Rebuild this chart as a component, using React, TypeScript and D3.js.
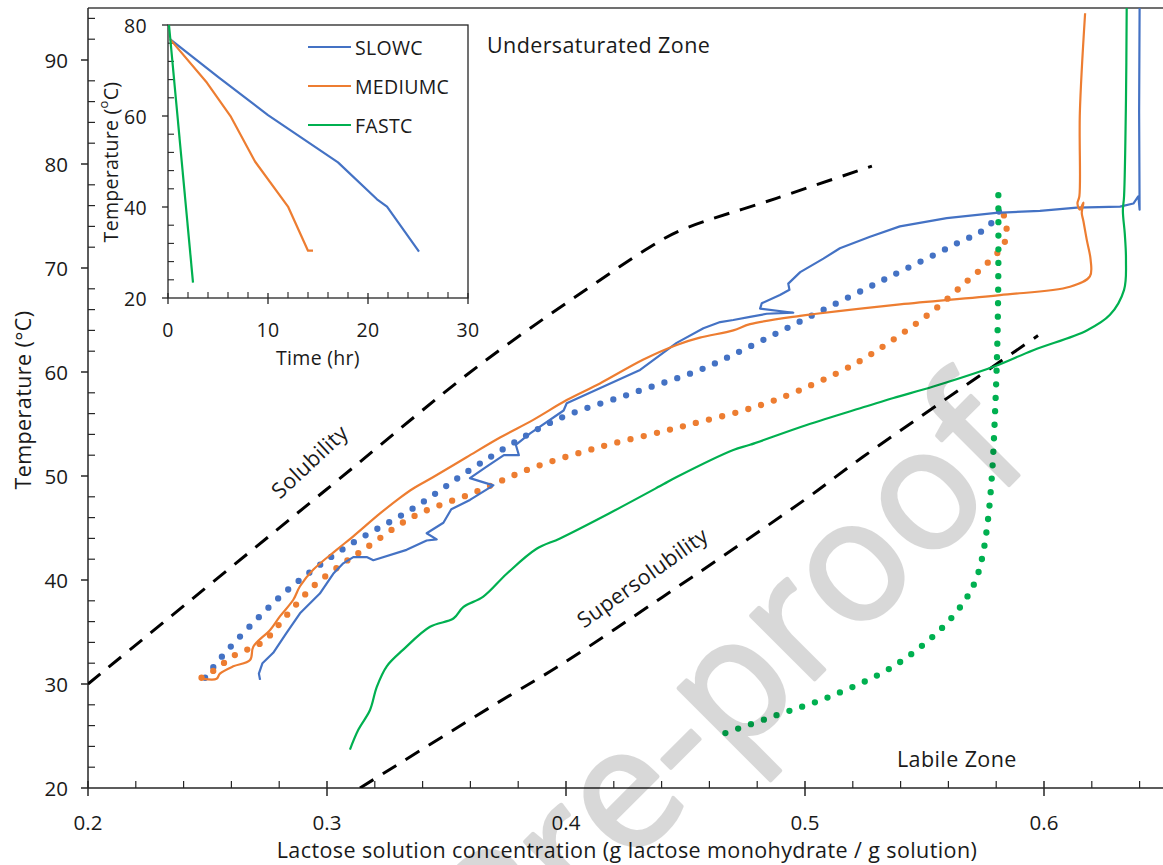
import * as d3 from "d3";

type Pt = [number, number];

// main chart: [lactose concentration, temperature °C]
const xMajor = [0.2, 0.3, 0.4, 0.5, 0.6];
const xMajorLabels = ["0.2", "0.3", "0.4", "0.5", "0.6"];
const yMajor = [20, 30, 40, 50, 60, 70, 80, 90];

const solubility: Pt[] = [
  [0.2, 30], [0.3, 48.75], [0.364, 60.7], [0.414, 68.8], [0.435, 72.0],
  [0.4477, 73.6], [0.488, 76.7], [0.528, 79.8],
];
const supersolubility: Pt[] = [
  [0.3138, 20], [0.37, 28.0], [0.3975, 31.8], [0.44, 38.3], [0.474, 43.6],
  [0.501, 47.9], [0.524, 51.8], [0.5975, 63.5],
];

const slowMeasured: Pt[] = [
  [0.64, 95], [0.6398, 85], [0.64, 75.6], [0.6395, 76.9], [0.6374, 76.2], [0.6318, 75.9],
  [0.6137, 75.8], [0.5983, 75.5], [0.58, 75.3], [0.5593, 74.8], [0.5397, 74.0], [0.5272, 73.0],
  [0.5146, 71.9], [0.5077, 70.9], [0.498, 69.6], [0.493, 68.5], [0.4935, 67.9], [0.4895, 67.4],
  [0.4819, 66.6], [0.4812, 66.1], [0.4951, 65.7], [0.484, 65.6], [0.477, 65.3], [0.47, 65.0],
  [0.4645, 64.8], [0.4575, 64.2], [0.4463, 62.8], [0.431, 60.2], [0.4282, 59.9], [0.4003, 57.0],
  [0.399, 56.3], [0.385, 54.1], [0.379, 53.0], [0.3803, 52.0], [0.374, 52.0], [0.3668, 50.9],
  [0.3598, 49.8], [0.3696, 49.1], [0.3598, 47.7], [0.352, 46.8], [0.3487, 45.5], [0.3417, 44.5],
  [0.3459, 43.9], [0.3417, 43.8], [0.3333, 42.9], [0.3194, 41.9], [0.3166, 42.2], [0.311, 42.2],
  [0.3068, 41.6], [0.3026, 40.6], [0.297, 38.7], [0.2887, 36.8], [0.283, 34.9], [0.2775, 33.0],
  [0.273, 32.0], [0.2715, 31.0], [0.272, 30.4],
];
const mediumMeasured: Pt[] = [
  [0.6172, 94.5], [0.615, 84.9], [0.6148, 76.9], [0.614, 76.2], [0.615, 75.6], [0.6165, 76.3],
  [0.6158, 75.3], [0.6165, 74.5], [0.6179, 72.7], [0.6195, 70.8], [0.6192, 69.2], [0.6109, 68.2],
  [0.5816, 67.4], [0.5397, 66.5], [0.5048, 65.6], [0.4979, 65.4], [0.477, 64.6], [0.47, 64.0],
  [0.456, 63.3], [0.4463, 62.6], [0.4324, 61.2], [0.4142, 58.9], [0.4003, 57.3], [0.3863, 55.4],
  [0.3724, 53.7], [0.3584, 51.8], [0.3445, 49.9], [0.3361, 48.8], [0.3305, 47.9], [0.3222, 46.4],
  [0.311, 44.2], [0.304, 42.9], [0.2943, 41.0], [0.2887, 39.4], [0.2859, 38.1], [0.2803, 36.5],
  [0.2762, 35.2], [0.2692, 33.6], [0.2678, 32.3], [0.2608, 31.7], [0.2552, 31.0], [0.2538, 30.5],
  [0.2482, 30.5],
];
const fastMeasured: Pt[] = [
  [0.6346, 95], [0.6343, 86.2], [0.6335, 76.9], [0.633, 75.5], [0.6338, 73.3], [0.6343, 70.8],
  [0.6335, 67.9], [0.6276, 65.5], [0.6179, 64.0], [0.5955, 62.1], [0.5788, 60.5], [0.5537, 58.6],
  [0.537, 57.5], [0.5258, 56.7], [0.5007, 54.9], [0.477, 53.0], [0.47, 52.5], [0.4463, 49.9],
  [0.4407, 49.2], [0.418, 46.4], [0.3975, 44.0], [0.3877, 43.0], [0.3752, 40.6], [0.3654, 38.4],
  [0.357, 37.4], [0.3529, 36.3], [0.3431, 35.5], [0.3319, 33.3], [0.325, 31.7], [0.3208, 29.7],
  [0.318, 27.5], [0.3131, 25.6], [0.3096, 23.7],
];

const slowModel: Pt[] = [
  [0.249, 30.6], [0.2559, 32.6], [0.2705, 36.2], [0.2859, 39.5], [0.3082, 43.2], [0.3361, 46.9],
  [0.364, 51.2], [0.396, 55.4], [0.4282, 58.0], [0.456, 60.2], [0.4756, 62.3], [0.5035, 65.5],
  [0.5341, 69.0], [0.5621, 72.2], [0.5767, 74.0], [0.5823, 75.9],
];
const mediumModel: Pt[] = [
  [0.2475, 30.6], [0.254, 31.5], [0.2608, 32.7], [0.2734, 34.1], [0.2831, 36.6], [0.2943, 39.4],
  [0.3068, 41.6], [0.3152, 42.9], [0.3361, 46.1], [0.3626, 48.5], [0.385, 50.7], [0.4128, 52.7],
  [0.4407, 54.3], [0.456, 55.2], [0.4742, 56.3], [0.4909, 57.6], [0.5202, 60.7], [0.5425, 64.0],
  [0.5558, 66.3], [0.5676, 68.7], [0.576, 70.4], [0.583, 72.2], [0.5844, 73.4], [0.5837, 74.6],
  [0.5823, 75.8],
];
const fastModel: Pt[] = [
  [0.5809, 77.0], [0.5809, 70.0], [0.5805, 63.0], [0.5795, 56.0], [0.5782, 50.0], [0.5762, 45.1],
  [0.5739, 41.9], [0.5711, 39.8], [0.5662, 37.8], [0.5565, 35.2], [0.537, 31.7], [0.5105, 28.8],
  [0.4881, 27.0], [0.4644, 25.1],
];

// inset: [time hr, temperature °C]
const insetXTicks = [0, 10, 20, 30];
const insetYTicks = [20, 40, 60, 80];
const slowProfile: Pt[] = [[0.2, 76.9], [5.0, 68.6], [10.0, 60.2], [17.0, 49.8], [20.9, 41.7], [21.9, 40.1], [25.1, 30.2]];
const mediumProfile: Pt[] = [[0.2, 76.9], [3.9, 67.3], [6.3, 59.8], [8.7, 50.0], [12.0, 40.1], [14.0, 30.4], [14.5, 30.4]];
const fastProfile: Pt[] = [[0.1, 80], [2.5, 23.4]];

const seriesNames = ["SLOWC", "MEDIUMC", "FASTC"];
const seriesColors = ["#4472C4", "#ED7D31", "#00B050"];

const FONT = "'Open Sans', 'DejaVu Sans', sans-serif";
const INK = "#1a1a1a";

export default function App() {
  const x = d3.scaleLinear().domain([0.2, 0.65]).range([88, 1163.5]);
  const y = d3.scaleLinear().domain([20, 95]).range([788, 8]);
  const xi = d3.scaleLinear().domain([0, 30]).range([168, 468]);
  const yi = d3.scaleLinear().domain([20, 80]).range([298, 25]);

  const straight = d3.line<Pt>().x((d) => x(d[0])).y((d) => y(d[1]));
  const smooth = d3.line<Pt>().x((d) => x(d[0])).y((d) => y(d[1])).curve(d3.curveCatmullRom);
  const insetLine = d3.line<Pt>().x((d) => xi(d[0])).y((d) => yi(d[1]));

  const xMinor = d3.range(11, 33).filter((i) => i % 5 !== 0).map((i) => i * 0.02);
  const yMinor = d3.range(11, 48).filter((i) => i % 5 !== 0).map((i) => i * 2);
  const xiMinor = d3.range(1, 15).filter((i) => i % 5 !== 0).map((i) => i * 2);
  const yiMinor = d3.range(6, 20).filter((i) => i % 5 !== 0).map((i) => i * 4);

  const measured = [slowMeasured, mediumMeasured, fastMeasured];
  const measuredGen = [straight, smooth, smooth];
  const models = [slowModel, mediumModel, fastModel];
  const profiles = [slowProfile, mediumProfile, fastProfile];
  const axisColor = "#262626";
  const label = { fontSize: 21.5, letterSpacing: 0.4, fill: INK } as const;
  const insetText = { fontSize: 19.5, letterSpacing: 0.3, fill: INK } as const;

  return (
    <svg width={1163} height={865} style={{ display: "block", position: "absolute", left: 0, top: 0 }} fontFamily={FONT}>
      <rect width={1163} height={865} fill="#fff" />
      <defs>
        <clipPath id="plot">
          <rect x={88} y={8} width={1076} height={780} />
        </clipPath>
      </defs>

      {/* frame and axes */}
      <line x1={88} x2={1163} y1={8} y2={8} stroke="#404040" strokeWidth={1.5} />
      <line x1={88} x2={88} y1={8} y2={788} stroke={axisColor} strokeWidth={1.5} />
      <line x1={88} x2={1163} y1={788} y2={788} stroke={axisColor} strokeWidth={1.5} />
      {yMajor.map((v) => (
        <g key={"ym" + v}>
          <line x1={81} x2={88} y1={y(v)} y2={y(v)} stroke={axisColor} strokeWidth={1.5} />
          <text x={68} y={y(v)} textAnchor="end" dominantBaseline="central" fontSize={20.5} fill={INK}>{v}</text>
        </g>
      ))}
      {yMinor.map((v) => (
        <line key={"yn" + v} x1={88} x2={95} y1={y(v)} y2={y(v)} stroke={axisColor} strokeWidth={1.2} />
      ))}
      {xMajor.map((v, i) => (
        <g key={"xm" + v}>
          <line x1={x(v)} x2={x(v)} y1={781} y2={796} stroke={axisColor} strokeWidth={1.5} />
          <text x={x(v)} y={822} textAnchor="middle" dominantBaseline="central" fontSize={20.5} fill={INK}>{xMajorLabels[i]}</text>
        </g>
      ))}
      {xMinor.map((v) => (
        <line key={"xn" + v} x1={x(v)} x2={x(v)} y1={781} y2={788} stroke={axisColor} strokeWidth={1.2} />
      ))}
      <text x={627} y={849} textAnchor="middle" dominantBaseline="central" {...label}>
        Lactose solution concentration (g lactose monohydrate / g solution)
      </text>
      <text transform="translate(22,400) rotate(-90)" textAnchor="middle" dominantBaseline="central" {...label}>
        Temperature (°C)
      </text>

      <g clipPath="url(#plot)">
        <path d={smooth(solubility) ?? ""} fill="none" stroke="#000" strokeWidth={3} strokeDasharray="16 11" />
        <path d={smooth(supersolubility) ?? ""} fill="none" stroke="#000" strokeWidth={3} strokeDasharray="16 11" />
        {models.map((m, i) => (
          <path key={"mod" + i} d={smooth(m) ?? ""} fill="none" stroke={seriesColors[i]} strokeWidth={6.3}
            strokeLinecap="round" strokeDasharray="0 13.5" />
        ))}
        {measured.map((m, i) => (
          <path key={"mea" + i} d={measuredGen[i](m) ?? ""} fill="none" stroke={seriesColors[i]} strokeWidth={2.2}
            strokeLinejoin="round" />
        ))}
      </g>

      {/* zone labels */}
      <text x={487} y={44} dominantBaseline="central" {...label}>Undersaturated Zone</text>
      <text x={897} y={758} dominantBaseline="central" {...label}>Labile Zone</text>
      <text transform="translate(309,461) rotate(-43)" textAnchor="middle" dominantBaseline="central" {...label}>Solubility</text>
      <text transform="translate(642,577) rotate(-35.5)" textAnchor="middle" dominantBaseline="central" {...label}>Supersolubility</text>

      {/* inset */}
      <rect x={168} y={25} width={300} height={273} fill="#fff" stroke="#262626" strokeWidth={1.3} />
      {insetYTicks.map((v) => (
        <g key={"iy" + v}>
          <line x1={162} x2={168} y1={yi(v)} y2={yi(v)} stroke={axisColor} strokeWidth={1.3} />
          <text x={147} y={yi(v)} textAnchor="end" dominantBaseline="central" {...insetText}>{v}</text>
        </g>
      ))}
      {yiMinor.map((v) => (
        <line key={"iyn" + v} x1={168} x2={174} y1={yi(v)} y2={yi(v)} stroke={axisColor} strokeWidth={1.1} />
      ))}
      {insetXTicks.map((v) => (
        <g key={"ix" + v}>
          <line x1={xi(v)} x2={xi(v)} y1={293} y2={304} stroke={axisColor} strokeWidth={1.3} />
          <text x={xi(v)} y={329} textAnchor="middle" dominantBaseline="central" {...insetText}>{v}</text>
        </g>
      ))}
      {xiMinor.map((v) => (
        <line key={"ixn" + v} x1={xi(v)} x2={xi(v)} y1={292} y2={298} stroke={axisColor} strokeWidth={1.1} />
      ))}
      {profiles.map((p, i) => (
        <path key={"pr" + i} d={insetLine(p) ?? ""} fill="none" stroke={seriesColors[i]} strokeWidth={2.2} strokeLinejoin="round" />
      ))}
      <text x={318} y={357} textAnchor="middle" dominantBaseline="central" {...insetText}>Time (hr)</text>
      <text transform="translate(110,162) rotate(-90)" textAnchor="middle" dominantBaseline="central" {...insetText}>
        Temperature (<tspan fontSize={13} dy={-7}>o</tspan><tspan dy={7}>C)</tspan>
      </text>
      {seriesNames.map((n, i) => (
        <g key={"lg" + n}>
          <line x1={308} x2={351} y1={47 + i * 39} y2={47 + i * 39} stroke={seriesColors[i]} strokeWidth={2.2} />
          <text x={355} y={47 + i * 39} dominantBaseline="central" {...insetText}>{n}</text>
        </g>
      ))}

      {/* watermark */}
      <g opacity={0.15}>
        <text transform="translate(1036,458) rotate(-45)" textAnchor="end" fontSize={168} fill="#000"
          stroke="#000" strokeWidth={4} strokeLinejoin="round" fontFamily={FONT}>
          Journal Pre-proof
        </text>
      </g>
    </svg>
  );
}
